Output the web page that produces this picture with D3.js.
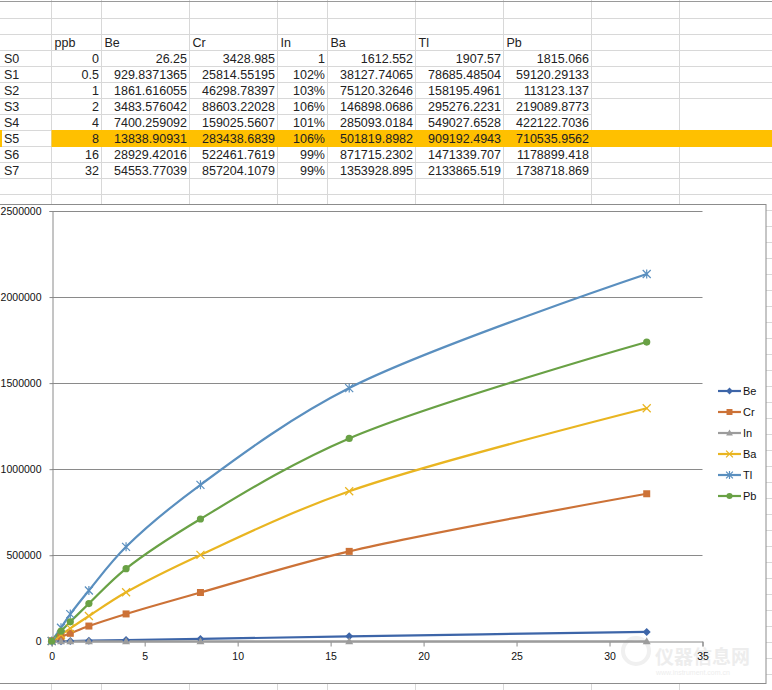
<!DOCTYPE html>
<html><head><meta charset="utf-8">
<script src="https://cdn.jsdelivr.net/npm/d3@7/dist/d3.min.js"></script>
<style>
html,body{margin:0;padding:0;background:#fff;overflow:hidden;}
svg{display:block;}
</style></head>
<body>
<svg id="c" width="772" height="690"></svg>
<script>
// ---- data ----
const samples = ["S0","S1","S2","S3","S4","S5","S6","S7"];
const headers = ["ppb","Be","Cr","In","Ba","Tl","Pb"];
const ppb = [0, 0.5, 1, 2, 4, 8, 16, 32];
const Be = [26.25, 929.8371365, 1861.616055, 3483.576042, 7400.259092, 13838.90931, 28929.42016, 54553.77039];
const Cr = [3428.985, 25814.55195, 46298.78397, 88603.22028, 159025.5607, 283438.6839, 522461.7619, 857204.1079];
const In = [1, 1.02, 1.03, 1.06, 1.01, 1.06, 0.99, 0.99];
const InText = ["1","102%","103%","106%","101%","106%","99%","99%"];
const Ba = [1612.552, 38127.74065, 75120.32646, 146898.0686, 285093.0184, 501819.8982, 871715.2302, 1353928.895];
const Tl = [1907.57, 78685.48504, 158195.4961, 295276.2231, 549027.6528, 909192.4943, 1471339.707, 2133865.519];
const Pb = [1815.066, 59120.29133, 113123.137, 219089.8773, 422122.7036, 710535.9562, 1178899.418, 1738718.869];
const BeText = ["26.25","929.8371365","1861.616055","3483.576042","7400.259092","13838.90931","28929.42016","54553.77039"];
const CrText = ["3428.985","25814.55195","46298.78397","88603.22028","159025.5607","283438.6839","522461.7619","857204.1079"];
const BaText = ["1612.552","38127.74065","75120.32646","146898.0686","285093.0184","501819.8982","871715.2302","1353928.895"];
const TlText = ["1907.57","78685.48504","158195.4961","295276.2231","549027.6528","909192.4943","1471339.707","2133865.519"];
const PbText = ["1815.066","59120.29133","113123.137","219089.8773","422122.7036","710535.9562","1178899.418","1738718.869"];
const xTicks = [0,5,10,15,20,25,30,35];
const yTicks = [0,500000,1000000,1500000,2000000,2500000];
const seriesNames = ["Be","Cr","In","Ba","Tl","Pb"];
const seriesVals = [Be, Cr, In, Ba, Tl, Pb];
const seriesColors = ["#3d65a8","#cc7237","#9c9c9c","#e9b521","#5a8fbf","#69a145"];
const seriesMarkers = ["diamond","square","triangle","x","star","circle"];

const svg = d3.select("#c");
const font = "'Liberation Sans', Arial, sans-serif";

// ---- spreadsheet grid ----
const colEdges = [0, 51.5, 101.5, 189.5, 277.5, 327.5, 415.5, 503.5, 591.5, 679.5, 772];
const rowTop = 2, rowH = 16;
const grid = svg.append("g").attr("stroke","#d8d8d8").attr("stroke-width",1).attr("shape-rendering","crispEdges");
for (let i = 1; i <= 43; i++) {
  const y = rowTop + i*rowH + 0.5;
  if (y > 200 && y < 686 ) {
    grid.append("line").attr("x1",766).attr("x2",772).attr("y1",y).attr("y2",y);
    continue;
  }
  if (i === 7) {
    grid.append("line").attr("x1",0).attr("x2",591.5).attr("y1",y).attr("y2",y);
    continue;
  }
  grid.append("line").attr("x1",0).attr("x2",772).attr("y1",y).attr("y2",y);
}
colEdges.slice(1,-1).forEach(x => {
  grid.append("line").attr("x1",x).attr("x2",x).attr("y1",0).attr("y2",204);
  grid.append("line").attr("x1",x).attr("x2",x).attr("y1",684).attr("y2",690);
});
svg.append("line").attr("x1",0).attr("x2",772).attr("y1",1.5).attr("y2",1.5)
  .attr("stroke","#9a9a9a").attr("stroke-width",1);

// highlight row S5
const hlRow = 5;
svg.append("rect").attr("x",51.5).attr("y",rowTop + (3+hlRow)*rowH).attr("width",772-51.5).attr("height",rowH+1)
  .attr("fill","#ffc000");
svg.append("rect").attr("x",0).attr("y",rowTop + (3+hlRow)*rowH).attr("width",2).attr("height",rowH+1)
  .attr("fill","#ffc000");

// table text
const tbl = svg.append("g").attr("font-family",font).attr("font-size","12.5px").attr("fill","#222");
const headerY = rowTop + 2*rowH + 13;
headers.forEach((h,i) => {
  tbl.append("text").attr("x",colEdges[i+1]+3).attr("y",headerY).text(h);
});
const cols = [ppb.map(String), BeText, CrText, InText, BaText, TlText, PbText];
samples.forEach((s,r) => {
  const y = rowTop + (3+r)*rowH + 13;
  tbl.append("text").attr("x",4).attr("y",y).text(s);
  cols.forEach((c,ci) => {
    tbl.append("text").attr("x",colEdges[ci+2]-2.5).attr("y",y).attr("text-anchor","end").text(c[r]);
  });
});

// ---- chart object ----
svg.append("rect").attr("x",-1).attr("y",204.5).attr("width",767).attr("height",479)
  .attr("fill","#fff").attr("stroke","#8c8c8c").attr("stroke-width",1);

// watermark (behind chart marks)
const wm = svg.append("g").attr("opacity",0.5);
wm.append("circle").attr("cx",636).attr("cy",651).attr("r",13).attr("fill","none").attr("stroke","#e2e2e2").attr("stroke-width",4);
wm.append("text").attr("x",655).attr("y",664).attr("font-family","'Noto Sans CJK SC'").attr("font-size","19px")
  .attr("font-weight","bold").attr("fill","#dcdcdc").text("仪器信息网");
wm.append("text").attr("x",656).attr("y",675).attr("font-family",font).attr("font-size","7px")
  .attr("fill","#dcdcdc").text("www.instrument.com.cn");

const x = d3.scaleLinear().domain([0,35]).range([51.7, 702.5]);
const y = d3.scaleLinear().domain([0,2500000]).range([641.3, 211]);

// gridlines
svg.append("g").selectAll("line").data(yTicks.slice(1)).join("line")
  .attr("x1",x(0)).attr("x2",x(35)).attr("y1",d=>Math.round(y(d))+0.5).attr("y2",d=>Math.round(y(d))+0.5)
  .attr("stroke","#8a8a8a").attr("stroke-width",1);

// axes
const yAxis = svg.append("g").attr("transform",`translate(${Math.round(x(0))+0.5},0)`)
  .call(d3.axisLeft(y).tickValues(yTicks).tickSize(3).tickPadding(8).tickFormat(d3.format("d")));
const xAxis = svg.append("g").attr("transform",`translate(0,${Math.round(y(0))+0.5})`)
  .call(d3.axisBottom(x).tickValues(xTicks).tickSize(5).tickPadding(4).tickFormat(d3.format("d")));
[xAxis,yAxis].forEach(a => {
  a.select(".domain").attr("stroke","#8a8a8a");
  a.selectAll(".tick line").attr("stroke","#8a8a8a");
  a.selectAll("text").attr("font-family",font).attr("font-size","10.5px").attr("fill","#111");
});
xAxis.selectAll("text").attr("dy","0.9em");

// markers
function drawMarker(g, type, cx, cy, color, s) {
  s = s || 1;
  if (type === "diamond") {
    const r = 4*s;
    g.append("path").attr("d",`M${cx},${cy-r}L${cx+r},${cy}L${cx},${cy+r}L${cx-r},${cy}Z`).attr("fill",color);
  } else if (type === "square") {
    const r = 3.5*s;
    g.append("rect").attr("x",cx-r).attr("y",cy-r).attr("width",2*r).attr("height",2*r).attr("fill",color);
  } else if (type === "triangle") {
    const r = 4*s;
    g.append("path").attr("d",`M${cx},${cy-r}L${cx+r},${cy+r*0.75}L${cx-r},${cy+r*0.75}Z`).attr("fill",color);
  } else if (type === "x") {
    const r = 4*s;
    g.append("path").attr("d",`M${cx-r},${cy-r}L${cx+r},${cy+r}M${cx-r},${cy+r}L${cx+r},${cy-r}`)
      .attr("stroke",color).attr("stroke-width",1.2).attr("fill","none");
  } else if (type === "star") {
    const r = 4*s;
    g.append("path").attr("d",`M${cx-r},${cy-r}L${cx+r},${cy+r}M${cx-r},${cy+r}L${cx+r},${cy-r}M${cx},${cy-r-0.5}L${cx},${cy+r+0.5}`)
      .attr("stroke",color).attr("stroke-width",1.2).attr("fill","none");
  } else if (type === "circle") {
    g.append("circle").attr("cx",cx).attr("cy",cy).attr("r",3.6*s).attr("fill",color);
  }
}

const line = d3.line().x((d,i)=>x(ppb[i])).y(d=>y(d)).curve(d3.curveCatmullRom.alpha(0.5));
const plot = svg.append("g");
seriesVals.forEach((vals,si) => {
  plot.append("path").attr("d",line(vals)).attr("fill","none")
    .attr("stroke",seriesColors[si]).attr("stroke-width",2.2).attr("stroke-linecap","round");
});
seriesVals.forEach((vals,si) => {
  const g = plot.append("g");
  vals.forEach((v,i) => drawMarker(g, seriesMarkers[si], x(ppb[i]), y(v), seriesColors[si]));
});

// legend
const leg = svg.append("g");
const legY0 = 391, legDy = 21;
seriesNames.forEach((n,i) => {
  const ly = legY0 + i*legDy;
  leg.append("line").attr("x1",718).attr("x2",741).attr("y1",ly).attr("y2",ly)
    .attr("stroke",seriesColors[i]).attr("stroke-width",2.2);
  drawMarker(leg, seriesMarkers[i], 729.5, ly, seriesColors[i], 0.85);
  leg.append("text").attr("x",743).attr("y",ly+4).attr("font-family",font).attr("font-size","11px")
    .attr("fill","#111").text(n);
});
</script>
</body></html>
